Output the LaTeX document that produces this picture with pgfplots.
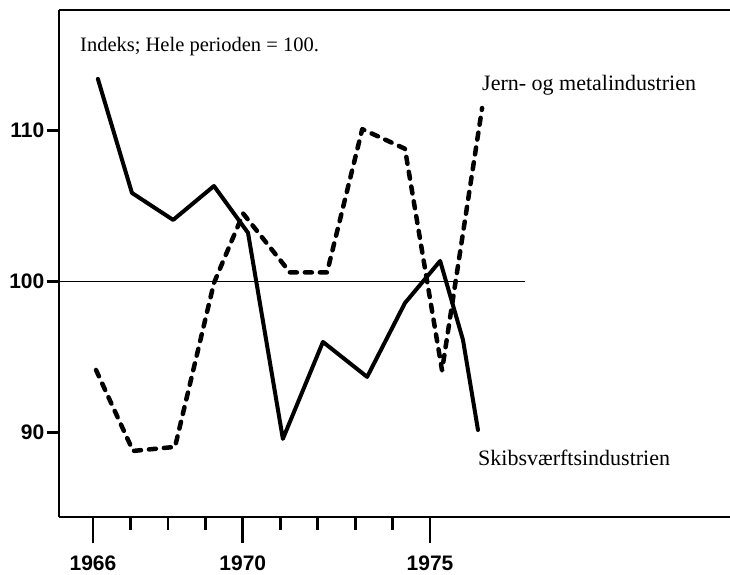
\documentclass[border=0pt]{standalone}
\usepackage{fontspec}
\setmainfont{Liberation Serif}
\newfontfamily\hv{Liberation Sans}
\usepackage{pgfplots}
\pgfplotsset{compat=1.18}
\begin{document}
\begin{tikzpicture}[x=1pt,y=1pt]
\useasboundingbox (0,0) rectangle (730,574);
\begin{axis}[
  at={(59pt,57pt)}, anchor=south west,
  scale only axis, width=671pt, height=507pt,
  xmin=1965.092, xmax=1983.01, ymin=84.38, ymax=118.0,
  axis x line*=bottom, axis y line*=left,
  axis line style={line width=2.5pt, black},
  xtick={1967,1968,1969,1971,1972,1973,1974},
  xticklabels={},
  extra x ticks={1966,1970,1975},
  extra x tick style={major tick length=26pt},
  ytick={90,100,110},
  tick align=outside,
  major tick length=12.5pt,
  major tick style={line width=2.8pt, black},
  /pgf/number format/assume math mode=true,
  /pgf/number format/set thousands separator={},
  xticklabel style={font=\hv\bfseries\fontsize{21}{21}\selectfont, inner sep=0pt, yshift=-13pt},
  yticklabel style={font=\hv\bfseries\fontsize{21}{21}\selectfont, inner sep=0pt, xshift=-2pt},
  clip=false,
]
% reference line at 100
\addplot[line width=1.8pt, black] coordinates {(1965.092,100) (1977.54,100)};
% Skibsvaerftsindustrien (solid)
\addplot[line width=4pt, black, line join=round, line cap=round] coordinates {
(1966.13,113.43) (1967.04,105.87) (1968.14,104.08) (1969.23,106.33)
(1970.14,103.22) (1971.07,89.56) (1972.14,95.99) (1973.32,93.67)
(1974.33,98.57) (1975.27,101.36) (1975.88,96.12) (1976.28,90.15)};
% Jern- og metalindustrien (dashed)
\addplot[line width=4.5pt, black, line join=round, line cap=round, dash pattern=on 7pt off 8pt] coordinates {
(1966.08,94.13) (1967.07,88.76) (1968.19,89.03) (1969.23,99.9)
(1970.01,104.5) (1971.26,100.6) (1972.25,100.6) (1973.19,110.1)
(1974.33,108.8) (1975.32,94.1) (1976.39,111.5)};
\draw[line width=2.5pt] (rel axis cs:0,1) -- (rel axis cs:1,1);
\end{axis}
\node[anchor=west, inner sep=0pt, font=\fontsize{20.5}{20.5}\selectfont] at (80,527) {Indeks; Hele perioden = 100.};
\node[anchor=west, inner sep=0pt, font=\fontsize{22}{22}\selectfont] at (482,489) {Jern- og metalindustrien};
\node[anchor=west, inner sep=0pt, font=\fontsize{22}{22}\selectfont] at (478,116) {Skibsværftsindustrien};
\end{tikzpicture}
\end{document}
